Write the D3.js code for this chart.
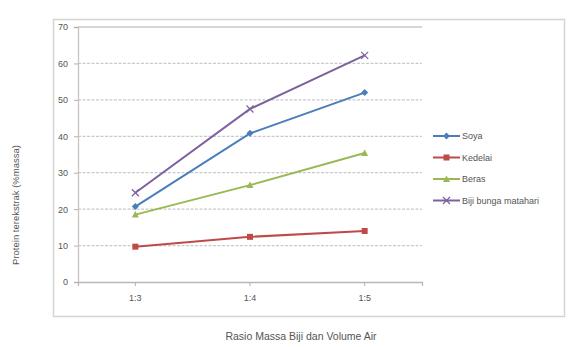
<!DOCTYPE html>
<html>
<head>
<meta charset="utf-8">
<script src="https://cdn.jsdelivr.net/npm/d3@7"></script>
<style>
  body { margin: 0; background: #fff; }
  text { font-family: "Liberation Sans", Arial, sans-serif; }
</style>
</head>
<body>
<svg id="chart" width="570" height="347"></svg>
<script>
// Ratio categories and extracted protein (% mass) for each seed
const categories = ["1:3", "1:4", "1:5"];
const soya = [20.7, 40.8, 52.0];
const kedelai = [9.7, 12.4, 14.0];
const beras = [18.5, 26.6, 35.4];
const bijiBungaMatahari = [24.5, 47.5, 62.2];
const seriesNames = ["Soya", "Kedelai", "Beras", "Biji bunga matahari"];
const yTicks = [0, 10, 20, 30, 40, 50, 60, 70];

const seriesValues = [soya, kedelai, beras, bijiBungaMatahari];
const colors = ["#4A7EBB", "#BE4B48", "#98B954", "#7D60A0"];
const markers = ["diamond", "square", "triangle", "cross"];

const svg = d3.select("#chart");
const plot = { left: 78, right: 422, top: 27, bottom: 282 };

const x = d3.scaleBand().domain(categories).range([plot.left, plot.right]);
const y = d3.scaleLinear().domain([0, 70]).range([plot.bottom, plot.top]);

// Outer frame around the plot
svg.append("rect")
  .attr("x", 53.5).attr("y", 19.5).attr("width", 511).attr("height", 297)
  .attr("fill", "none").attr("stroke", "#d4d4d4").attr("stroke-width", 1.5);

// Horizontal gridlines
svg.append("g").selectAll("line").data(yTicks.filter(d => d > 0)).join("line")
  .attr("x1", plot.left).attr("x2", plot.right)
  .attr("y1", d => y(d)).attr("y2", d => y(d))
  .attr("stroke", "#c9c9c9").attr("stroke-width", 1.3)
  .attr("stroke-dasharray", d => d === 70 ? null : "3,1.5");

// Y axis
const yAxis = svg.append("g").attr("transform", `translate(${plot.left},0)`)
  .call(d3.axisLeft(y).tickValues(yTicks).tickSize(4).tickPadding(6));
yAxis.select(".domain").attr("stroke", "#c4c4c4").attr("stroke-width", 1.3);
yAxis.selectAll(".tick line").attr("stroke", "#b0b0b0");
yAxis.selectAll("text").attr("fill", "#555").style("font-size", "9px");

// X axis
const xAxis = svg.append("g").attr("transform", `translate(0,${plot.bottom})`)
  .call(d3.axisBottom(x).tickSize(4).tickPadding(9));
xAxis.select(".domain").attr("stroke", "#b8b8b8").attr("stroke-width", 1.3);
xAxis.selectAll(".tick line").attr("stroke", "#b0b0b0");
xAxis.selectAll("text").attr("fill", "#555").style("font-size", "9px");

// Axis titles
svg.append("text")
  .attr("transform", "translate(19,205) rotate(-90)")
  .attr("text-anchor", "middle").attr("fill", "#555").style("font-size", "9.5px")
  .text("Protein terekstrak (%massa)");
svg.append("text")
  .attr("x", 301).attr("y", 340)
  .attr("text-anchor", "middle").attr("fill", "#555").style("font-size", "10.5px")
  .text("Rasio Massa Biji dan Volume Air");

function drawMarker(g, type, cx, cy, color) {
  if (type === "diamond") {
    g.append("path").attr("d", `M${cx},${cy - 3.5}L${cx + 3.5},${cy}L${cx},${cy + 3.5}L${cx - 3.5},${cy}Z`).attr("fill", color);
  } else if (type === "square") {
    g.append("rect").attr("x", cx - 3).attr("y", cy - 3).attr("width", 6).attr("height", 6).attr("fill", color);
  } else if (type === "triangle") {
    g.append("path").attr("d", `M${cx},${cy - 3.5}L${cx + 3.5},${cy + 3}L${cx - 3.5},${cy + 3}Z`).attr("fill", color);
  } else {
    g.append("path").attr("d", `M${cx - 3.5},${cy - 3.5}L${cx + 3.5},${cy + 3.5}M${cx - 3.5},${cy + 3.5}L${cx + 3.5},${cy - 3.5}`)
      .attr("stroke", color).attr("stroke-width", 1.2).attr("fill", "none");
  }
}

// Series lines and markers
const line = d3.line().x((d, i) => x(categories[i]) + x.bandwidth() / 2).y(d => y(d));
seriesValues.forEach((vals, s) => {
  const g = svg.append("g");
  g.append("path").datum(vals).attr("d", line)
    .attr("fill", "none").attr("stroke", colors[s]).attr("stroke-width", 2);
  vals.forEach((v, i) => drawMarker(g, markers[s], x(categories[i]) + x.bandwidth() / 2, y(v), colors[s]));
});

// Legend
const legend = svg.append("g").attr("transform", "translate(433,136)");
seriesNames.forEach((name, s) => {
  const row = legend.append("g").attr("transform", `translate(0,${s * 21.5})`);
  row.append("line").attr("x1", 0).attr("x2", 27).attr("y1", 0).attr("y2", 0)
    .attr("stroke", colors[s]).attr("stroke-width", 2);
  drawMarker(row, markers[s], 13.5, 0, colors[s]);
  row.append("text").attr("x", 29).attr("y", 3.2).attr("fill", "#555")
    .style("font-size", "9px").text(name);
});
</script>
</body>
</html>
